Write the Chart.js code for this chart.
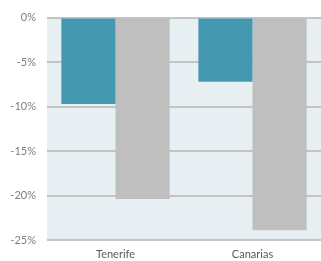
<!DOCTYPE html>
<html>
<head>
<meta charset="utf-8">
<script src="https://cdn.jsdelivr.net/npm/chart.js@4/dist/chart.umd.min.js"></script>
<style>
  html, body { margin: 0; padding: 0; background: #fff; }
  #wrap { width: 321px; height: 261px; }
</style>
</head>
<body>
<div id="wrap"><canvas id="chart" width="321" height="261"></canvas></div>
<script>
const categories = ["Tenerife", "Canarias"];
const seriesA = [-9.7, -7.2];
const seriesB = [-20.4, -23.9];
const yTicks = [0, -5, -10, -15, -20, -25];

// paint the plot area background
const plotBg = {
  id: "plotBg",
  beforeDraw(chart) {
    const a = chart.chartArea;
    const ctx = chart.ctx;
    ctx.save();
    ctx.fillStyle = "#E8EFF3";
    ctx.fillRect(a.left, a.top, a.right - a.left, a.bottom - a.top);
    ctx.restore();
  }
};

new Chart(document.getElementById("chart").getContext("2d"), {
  type: "bar",
  data: {
    labels: categories,
    datasets: [
      { label: "A", data: seriesA, backgroundColor: "#4499B1", categoryPercentage: 0.79, barPercentage: 1 },
      { label: "B", data: seriesB, backgroundColor: "#BFBFBF", categoryPercentage: 0.79, barPercentage: 1 }
    ]
  },
  options: {
    responsive: false,
    animation: false,
    layout: { padding: { top: 16, right: 0, left: 0, bottom: 0 } },
    plugins: { legend: { display: false }, tooltip: { enabled: false } },
    scales: {
      x: {
        grid: { display: false, drawTicks: false },
        border: { display: false },
        ticks: { color: "#595959", font: { family: "Lato", size: 11 }, padding: 8 },
        afterFit(scale) { scale.height = 21; }
      },
      y: {
        min: -25,
        max: 0,
        afterBuildTicks(scale) { scale.ticks = yTicks.map(v => ({ value: v })); },
        grid: { color: "#C4C4C4", lineWidth: 2, drawTicks: false },
        border: { display: false },
        ticks: {
          color: "#7F7F7F",
          font: { family: "Lato", size: 11 },
          padding: 11,
          callback: v => v + "%"
        },
        afterFit(scale) { scale.width = 47; }
      }
    }
  },
  plugins: [plotBg]
});
</script>
</body>
</html>
